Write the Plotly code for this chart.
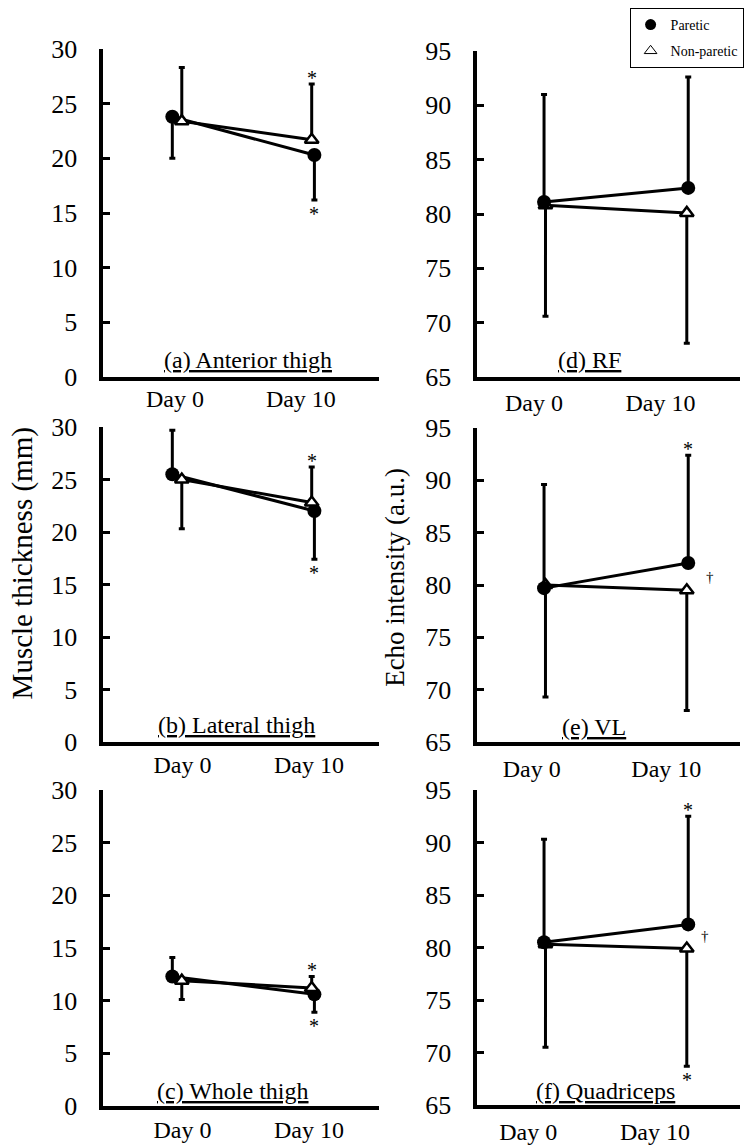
import plotly.graph_objects as go

W, H = 744, 1146
FONT = "Liberation Serif"

# ---------------- data ----------------
days = ["Day 0", "Day 10"]
day_index = [0, 1]

# (a) Anterior thigh – muscle thickness (mm)
a_paretic_mean = [23.8, 20.3]
a_paretic_sd = [3.8, 4.1]
a_nonparetic_mean = [23.4, 21.7]
a_nonparetic_sd = [4.9, 5.1]

# (b) Lateral thigh – muscle thickness (mm)
b_paretic_mean = [25.5, 22.0]
b_paretic_sd = [4.2, 4.6]
b_nonparetic_mean = [25.0, 22.8]
b_nonparetic_sd = [4.7, 3.4]

# (c) Whole thigh – muscle thickness (mm)
c_paretic_mean = [12.3, 10.6]
c_paretic_sd = [1.8, 1.7]
c_nonparetic_mean = [11.9, 11.2]
c_nonparetic_sd = [1.8, 1.1]

# (d) RF – echo intensity (a.u.)
d_paretic_mean = [81.1, 82.4]
d_paretic_sd = [9.9, 10.2]
d_nonparetic_mean = [80.8, 80.1]
d_nonparetic_sd = [10.2, 12.0]

# (e) VL – echo intensity (a.u.)
e_paretic_mean = [79.7, 82.1]
e_paretic_sd = [9.9, 10.3]
e_nonparetic_mean = [80.0, 79.5]
e_nonparetic_sd = [10.7, 11.5]

# (f) Quadriceps – echo intensity (a.u.)
f_paretic_mean = [80.5, 82.2]
f_paretic_sd = [9.8, 10.3]
f_nonparetic_mean = [80.3, 79.9]
f_nonparetic_sd = [9.8, 11.2]

# direction of the one-sided SD bars
thick_paretic_dir = [["down", "down"], ["up", "down"], ["up", "down"]]
thick_nonparetic_dir = [["up", "up"], ["down", "up"], ["down", "up"]]
echo_paretic_dir = ["up", "up"]
echo_nonparetic_dir = ["down", "down"]

panel_titles = ["(a) Anterior thigh", "(b) Lateral thigh", "(c) Whole thigh",
                "(d) RF", "(e) VL", "(f) Quadriceps"]

# significance marks: (series, day index, side, symbol)
a_marks = [("non", 1, "up", "*"), ("par", 1, "down", "*")]
b_marks = [("non", 1, "up", "*"), ("par", 1, "down", "*")]
c_marks = [("non", 1, "up", "*"), ("par", 1, "down", "*")]
d_marks = []
e_marks = [("par", 1, "up", "*"), ("both", 1, "right", "\u2020")]
f_marks = [("par", 1, "up", "*"), ("non", 1, "down", "*"), ("both", 1, "right", "\u2020")]

y_ticks_thick = [0, 5, 10, 15, 20, 25, 30]
y_ticks_echo = [65, 70, 75, 80, 85, 90, 95]

# ---------------- layout / style ----------------
def px_x(p):
    return p / W

def px_y(p):
    return 1 - p / H

# pixel boxes: (x0, x1, ytop, ybottom)
boxes = {
    "a": (104, 381, 49, 377),
    "b": (104, 381, 427, 742),
    "c": (104, 381, 790, 1106),
    "d": (480, 744, 51, 377),
    "e": (480, 744, 428, 742),
    "f": (480, 744, 790, 1105),
}
left_range = [-0.529, 1.507]
right_range = [-0.462, 1.359]
tick_pos = {
    "a": [0.0, 0.93], "b": [0.055, 0.99], "c": [0.055, 0.99],
    "d": [-0.07, 0.807], "e": [-0.086, 0.848], "f": [-0.11, 0.769],
}
xlabel_standoff = {"a": -3, "b": -2, "c": -1, "d": 1, "e": 2, "f": 2}
par_off_left = [-0.02, 0.03]
non_off_left = [0.05, 0.01]
par_off_right = [0.0, 0.0]
non_off_right = [0.01, -0.01]

label_pos = {
    "a": (249, 360), "b": (238, 725), "c": (234.5, 1091),
    "d": (593, 360), "e": (597, 727), "f": (609, 1091),
}

panels = [
    ("a", a_paretic_mean, a_paretic_sd, a_nonparetic_mean, a_nonparetic_sd,
     thick_paretic_dir[0], thick_nonparetic_dir[0], a_marks, panel_titles[0]),
    ("b", b_paretic_mean, b_paretic_sd, b_nonparetic_mean, b_nonparetic_sd,
     thick_paretic_dir[1], thick_nonparetic_dir[1], b_marks, panel_titles[1]),
    ("c", c_paretic_mean, c_paretic_sd, c_nonparetic_mean, c_nonparetic_sd,
     thick_paretic_dir[2], thick_nonparetic_dir[2], c_marks, panel_titles[2]),
    ("d", d_paretic_mean, d_paretic_sd, d_nonparetic_mean, d_nonparetic_sd,
     echo_paretic_dir, echo_nonparetic_dir, d_marks, panel_titles[3]),
    ("e", e_paretic_mean, e_paretic_sd, e_nonparetic_mean, e_nonparetic_sd,
     echo_paretic_dir, echo_nonparetic_dir, e_marks, panel_titles[4]),
    ("f", f_paretic_mean, f_paretic_sd, f_nonparetic_mean, f_nonparetic_sd,
     echo_paretic_dir, echo_nonparetic_dir, f_marks, panel_titles[5]),
]

fig = go.Figure()
annotations = []
layout = {}

LW = 3
par_marker = dict(symbol="circle", size=14, color="black")
non_marker = dict(symbol="triangle-up", size=12, color="white",
                  line=dict(color="black", width=2.5))


def err(sd, dirs, want):
    return [s if d == want else 0 for s, d in zip(sd, dirs)]


for i, (key, pm, ps, nm, ns, pdir, ndir, marks, title) in enumerate(panels, start=1):
    left = key in "abc"
    xa = "x" if i == 1 else f"x{i}"
    ya = "y" if i == 1 else f"y{i}"
    poff = par_off_left if left else par_off_right
    noff = non_off_left if left else non_off_right
    px_ = [d + o for d, o in zip(day_index, poff)]
    nx_ = [d + o for d, o in zip(day_index, noff)]

    par_tr = go.Scatter(
        x=px_, y=pm, mode="lines+markers", xaxis=xa, yaxis=ya,
        line=dict(color="black", width=LW), marker=par_marker, showlegend=False,
        error_y=dict(type="data", symmetric=False, array=err(ps, pdir, "up"),
                     arrayminus=err(ps, pdir, "down"), color="black",
                     thickness=3, width=3),
        name="Paretic", hoverinfo="skip")
    non_tr = go.Scatter(
        x=nx_, y=nm, mode="lines+markers", xaxis=xa, yaxis=ya,
        line=dict(color="black", width=LW), marker=non_marker, showlegend=False,
        error_y=dict(type="data", symmetric=False, array=err(ns, ndir, "up"),
                     arrayminus=err(ns, ndir, "down"), color="black",
                     thickness=3, width=3),
        name="Non-paretic", hoverinfo="skip")
    if left:
        fig.add_trace(par_tr)
        fig.add_trace(non_tr)
    else:
        fig.add_trace(non_tr)
        fig.add_trace(par_tr)

    x0, x1, yt, yb = boxes[key]
    sfx = "" if i == 1 else str(i)
    layout["xaxis" + sfx] = dict(
        domain=[px_x(x0), min(1.0, px_x(x1))], range=left_range if left else right_range,
        anchor=ya, showline=True, linewidth=4, linecolor="black", ticks="",
        tickvals=tick_pos[key], ticktext=days, showgrid=False, zeroline=False,
        tickfont=dict(family=FONT, size=24, color="black"), automargin=False,
        ticklabelstandoff=xlabel_standoff[key], fixedrange=True)
    layout["yaxis" + sfx] = dict(
        domain=[px_y(yb), px_y(yt)],
        range=[0, 30] if left else [65, 95],
        tickvals=y_ticks_thick if left else y_ticks_echo,
        anchor=xa, showline=True, linewidth=4, linecolor="black",
        ticks="inside", ticklen=7, tickwidth=3, tickcolor="black",
        showgrid=False, zeroline=False, automargin=False,
        tickfont=dict(family=FONT, size=26, color="black"),
        ticklabelstandoff=17, fixedrange=True)

    # significance marks
    for ser, d, side, sym in marks:
        if ser == "both":
            yv = (pm[d] + nm[d]) / 2
            annotations.append(dict(
                x=px_[d], y=yv, xref=xa, yref=ya, text=sym, showarrow=False,
                xanchor="left", yanchor="middle", xshift=16 if key == "e" else 11,
                font=dict(family=FONT, size=15, color="black")))
            continue
        xs = px_ if ser == "par" else nx_
        m = pm if ser == "par" else nm
        s = ps if ser == "par" else ns
        if side == "up":
            annotations.append(dict(
                x=xs[d], y=m[d] + s[d], xref=xa, yref=ya, text=sym, showarrow=False,
                xanchor="center", yanchor="bottom", yshift=-7,
                font=dict(family=FONT, size=20, color="black")))
        else:
            annotations.append(dict(
                x=xs[d], y=m[d] - s[d], xref=xa, yref=ya, text=sym, showarrow=False,
                xanchor="center", yanchor="top", yshift=-1,
                font=dict(family=FONT, size=20, color="black")))

    lx, ly = label_pos[key]
    annotations.append(dict(
        x=px_x(lx), y=px_y(ly), xref="paper", yref="paper", text=f"<u>{title}</u>",
        showarrow=False, xanchor="center", yanchor="middle",
        font=dict(family=FONT, size=24, color="black")))

# axis titles
annotations.append(dict(
    x=px_x(23), y=px_y(563.5), xref="paper", yref="paper", text="Muscle thickness (mm)",
    textangle=-90, showarrow=False, xanchor="center", yanchor="middle",
    font=dict(family=FONT, size=29, color="black")))
annotations.append(dict(
    x=px_x(397), y=px_y(577), xref="paper", yref="paper", text="Echo intensity (a.u.)",
    textangle=-90, showarrow=False, xanchor="center", yanchor="middle",
    font=dict(family=FONT, size=27, color="black")))

# legend entries
fig.add_trace(go.Scatter(x=[None], y=[None], mode="markers", name="Paretic",
                         marker=dict(symbol="circle", size=11, color="black"),
                         legendgroup="p", showlegend=True))
fig.add_trace(go.Scatter(x=[None], y=[None], mode="markers", name="Non-paretic",
                         marker=dict(symbol="triangle-up", size=11, color="white",
                                     line=dict(color="black", width=1)),
                         legendgroup="n", showlegend=True))

fig.update_layout(
    width=W, height=H, margin=dict(l=0, r=0, t=0, b=0),
    paper_bgcolor="white", plot_bgcolor="white",
    font=dict(family=FONT, color="black"),
    annotations=annotations,
    legend=dict(x=px_x(633), xanchor="left", y=px_y(8), yanchor="top",
                bgcolor="white", bordercolor="black", borderwidth=1,
                font=dict(family=FONT, size=14, color="black"),
                tracegroupgap=5, itemwidth=30),
    **layout,
)

fig.write_html("out.html", config={"displayModeBar": False},
               post_script="document.body.style.margin='0px';document.body.style.overflow='hidden';")
